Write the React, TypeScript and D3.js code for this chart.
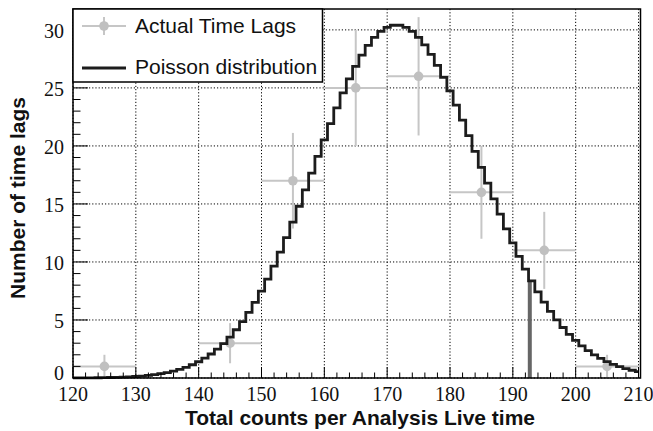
import React from "react";
import * as d3 from "d3";

// Poisson histogram bin centres (120..210) and contents
const binStart = 120;
const poissonValues = [
  0.006, 0.008, 0.011, 0.016, 0.022, 0.03, 0.041, 0.056, 0.075, 0.1,
  0.13, 0.17, 0.22, 0.29, 0.37, 0.47, 0.59, 0.74, 0.92, 1.14,
  1.4, 1.71, 2.07, 2.49, 2.97, 3.53, 4.16, 4.86, 5.65, 6.52,
  7.48, 8.52, 9.64, 10.84, 12.1, 13.43, 14.8, 16.22, 17.65, 19.1,
  20.53, 21.93, 23.28, 24.57, 25.77, 26.86, 27.83, 28.67, 29.35, 29.87,
  30.22, 30.4, 30.4, 30.22, 29.88, 29.36, 28.7, 27.89, 26.95, 25.9,
  24.75, 23.52, 22.22, 20.89, 19.53, 18.15, 16.79, 15.44, 14.13, 12.86,
  11.64, 10.48, 9.39, 8.37, 7.42, 6.54, 5.74, 5.01, 4.35, 3.76,
  3.24, 2.77, 2.36, 2.0, 1.69, 1.41, 1.18, 0.98, 0.81, 0.67,
  0.55,
];

// Actual time lags
const lagCenters = [125, 145, 155, 165, 175, 185, 195, 205];
const lagCounts = [1, 3, 17, 25, 26, 16, 11, 1];
const lagYErr = [1, 1.73, 4.12, 5, 5.1, 4, 3.32, 1];
const lagXErr = [5, 5, 5, 5, 5, 5, 5, 5];

// Cut marker
const cutX = 192.7;
const cutHeight = 8.4;

const xTicks = [120, 130, 140, 150, 160, 170, 180, 190, 200, 210];
const yTicks = [0, 5, 10, 15, 20, 25, 30];
const legendLabels = ["Actual Time Lags", "Poisson distribution"];
const xTitle = "Total counts per Analysis Live time";
const yTitle = "Number of time lags";

const W = 653;
const H = 431;
const L = 73;
const R = 638.5;
const T = 9;
const B = 378;

export default function App() {
  const x = d3.scaleLinear().domain([120, 210]).range([L, R]);
  const y = d3.scaleLinear().domain([0, 31.8]).range([B, T]);

  const histPts: [number, number][] = poissonValues.map((v, i) => [binStart + i, v]);
  const histLine = d3
    .line<[number, number]>()
    .x((d) => x(d[0]))
    .y((d) => y(d[1]))
    .curve(d3.curveStep)(histPts) as string;

  const xMinor = d3.range(120, 210.01, 2);
  const yMinor = d3.range(0, 31.8, 1);

  const serif = "'Liberation Serif', 'Times New Roman', serif";
  const sans = "'Liberation Sans', Arial, sans-serif";
  const errColor = "#c6c6c6";
  const markColor = "#c0c0c0";

  return (
    <svg
      width={W}
      height={H}
      style={{ position: "absolute", left: 0, top: 0, background: "#fff" }}
    >
      <rect x={0} y={0} width={W} height={H} fill="#fff" />
      {/* grid */}
      <g stroke="#000" strokeWidth={1} strokeDasharray="1.2,2">
        {xTicks.map((t) => (
          <line key={"gx" + t} x1={x(t)} x2={x(t)} y1={T} y2={B} />
        ))}
        {yTicks.map((t) => (
          <line key={"gy" + t} x1={L} x2={R + 2} y1={y(t)} y2={y(t)} />
        ))}
      </g>

      {/* data error bars */}
      <g stroke={errColor} strokeWidth={2}>
        {lagCenters.map((c, i) => (
          <g key={"e" + i}>
            <line
              x1={x(c - lagXErr[i])}
              x2={x(c + lagXErr[i])}
              y1={y(lagCounts[i])}
              y2={y(lagCounts[i])}
            />
            <line
              x1={x(c)}
              x2={x(c)}
              y1={Math.max(T, y(lagCounts[i] + lagYErr[i]))}
              y2={y(Math.max(0, lagCounts[i] - lagYErr[i]))}
            />
          </g>
        ))}
      </g>
      {lagCenters.map((c, i) => (
        <circle key={"m" + i} cx={x(c)} cy={y(lagCounts[i])} r={4.8} fill={markColor} />
      ))}

      {/* cut bar */}
      <line
        x1={x(cutX)}
        x2={x(cutX)}
        y1={y(0)}
        y2={y(cutHeight)}
        stroke="#666"
        strokeWidth={4}
      />

      {/* poisson histogram */}
      <path d={histLine} fill="none" stroke="#1c1c1c" strokeWidth={2.8} />

      {/* ticks */}
      <g stroke="#000" strokeWidth={1}>
        {xMinor.map((t) => {
          const major = t % 10 === 0;
          return (
            <line key={"tx" + t} x1={x(t)} x2={x(t)} y1={B} y2={B - (major ? 11 : 5.5)} />
          );
        })}
        {yMinor.map((t) => {
          const major = t % 5 === 0;
          return (
            <line key={"ty" + t} x1={L} x2={L + (major ? 15 : 7.5)} y1={y(t)} y2={y(t)} />
          );
        })}
      </g>

      {/* frame */}
      <rect x={L} y={T} width={640.5 - L} height={B - T} fill="none" stroke="#000" strokeWidth={1.5} />

      {/* tick labels */}
      <g fontFamily={serif} fontSize={20} fill="#111">
        {xTicks.map((t) => (
          <text key={"lx" + t} x={x(t)} y={401} textAnchor="middle">
            {t}
          </text>
        ))}
        {yTicks.map((t) => (
          <text key={"ly" + t} x={64} y={t === 0 ? y(t) + 2 : y(t) + 8} textAnchor="end">
            {t}
          </text>
        ))}
      </g>

      {/* axis titles */}
      <text x={360} y={425} textAnchor="middle" fontFamily={sans} fontWeight="bold" fontSize={21} fill="#111">
        {xTitle}
      </text>
      <text
        transform={`translate(25,198) rotate(-90)`}
        textAnchor="middle"
        fontFamily={sans}
        fontWeight="bold"
        fontSize={21}
        fill="#111"
      >
        {yTitle}
      </text>

      {/* legend */}
      <g>
        <rect x={L} y={T} width={322.5 - L} height={82 - T} fill="#fff" stroke="#000" strokeWidth={1.5} />
        <line x1={82} x2={126} y1={26} y2={26} stroke={errColor} strokeWidth={2} />
        <line x1={104} x2={104} y1={17} y2={35} stroke={errColor} strokeWidth={2} />
        <circle cx={104} cy={26} r={4.8} fill={markColor} />
        <text x={135} y={33} fontFamily={sans} fontSize={21} fill="#111">
          {legendLabels[0]}
        </text>
        <line x1={82} x2={126} y1={68} y2={68} stroke="#1c1c1c" strokeWidth={2.8} />
        <text x={135} y={74} fontFamily={sans} fontSize={21} fill="#111">
          {legendLabels[1]}
        </text>
      </g>
    </svg>
  );
}
